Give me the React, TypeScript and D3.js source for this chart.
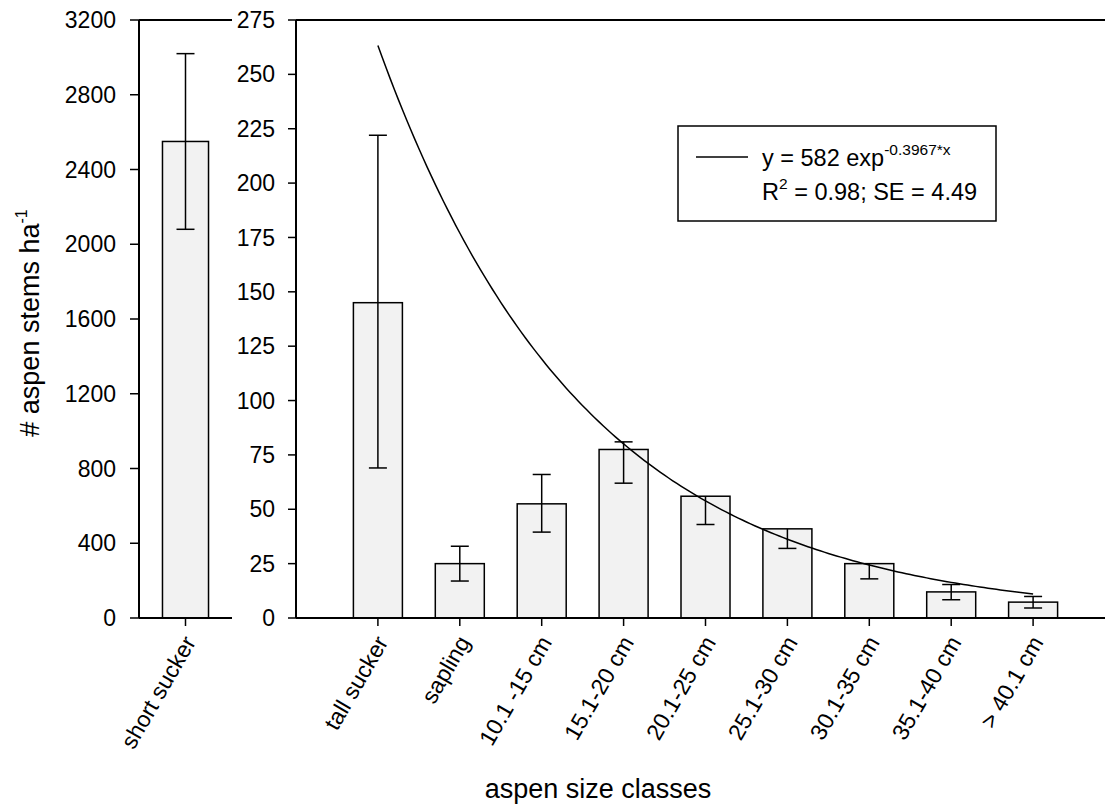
import React from 'react';
import * as d3 from 'd3';

// left panel (own y scale)
const shortLabels = ['short sucker'];
const shortMeans = [2550];
const shortErr = [470];
const leftTicks = [0, 400, 800, 1200, 1600, 2000, 2400, 2800, 3200];

// right panel
const sizeClasses = [
  'tall sucker',
  'sapling',
  '10.1 -15 cm',
  '15.1-20 cm',
  '20.1-25 cm',
  '25.1-30 cm',
  '30.1-35 cm',
  '35.1-40 cm',
  '> 40.1 cm',
];
const means = [145, 25, 52.5, 77.5, 56, 41, 25, 12, 7.3];
const errLower = [76, 8, 13, 15.5, 13, 9, 7, 3.6, 2.7];
const errUpper = [77, 8, 13.5, 3.5, 0, 0, 0, 3.4, 2.6];
const rightTicks = [0, 25, 50, 75, 100, 125, 150, 175, 200, 225, 250, 275];

// fitted curve shown in the legend
const fitA = 582;
const fitB = -0.3967;

const W = 1105;
const H = 810;
const FONT = '"Liberation Sans", Arial, sans-serif';
const BAR_FILL = '#f2f2f2';

const yTop = 20;
const yBottom = 618;

export default function App() {
  const yLeft = d3.scaleLinear().domain([0, 3200]).range([yBottom, yTop]);
  const yRight = d3.scaleLinear().domain([0, 275]).range([yBottom, yTop]);

  const leftX0 = 139;
  const leftX1 = 232;
  const xLeft = d3.scaleBand<string>().domain(shortLabels).range([leftX0, leftX1]).paddingInner(0).paddingOuter(0.51);

  const rightX0 = 296;
  // category i sits at position i + 2 (tall sucker = 2 ... > 40.1 cm = 10)
  const xRight = d3.scaleLinear().domain([1, 11]).range([rightX0, 1115]);
  const barW = 49;
  const capHalf = 9;

  const curvePts = d3.range(2, 10.0001, 0.05).map((x) => [x, fitA * Math.exp(fitB * x)] as [number, number]);
  const curvePath = d3
    .line<[number, number]>()
    .x((d) => xRight(d[0]))
    .y((d) => yRight(d[1]))(curvePts);

  const tickFont = 23;
  const labelY = 638;
  const labelDx = 4;

  return (
    <div style={{ position: 'absolute', left: 0, top: 0 }}>
      <svg width={W} height={H} style={{ display: 'block', background: '#fff' }} fontFamily={FONT}>
        {/* ---------- left panel ---------- */}
        {shortLabels.map((c, i) => {
          const cx = xLeft(c)! + xLeft.bandwidth() / 2;
          const bw = xLeft.bandwidth();
          return (
            <g key={c}>
              <rect
                x={cx - bw / 2}
                y={yLeft(shortMeans[i])}
                width={bw}
                height={yLeft(0) - yLeft(shortMeans[i])}
                fill={BAR_FILL}
                stroke="#000"
                strokeWidth={1.5}
              />
              <line x1={cx} x2={cx} y1={yLeft(shortMeans[i] - shortErr[i])} y2={yLeft(shortMeans[i] + shortErr[i])} stroke="#000" strokeWidth={1.5} />
              <line x1={cx - capHalf} x2={cx + capHalf} y1={yLeft(shortMeans[i] + shortErr[i])} y2={yLeft(shortMeans[i] + shortErr[i])} stroke="#000" strokeWidth={1.5} />
              <line x1={cx - capHalf} x2={cx + capHalf} y1={yLeft(shortMeans[i] - shortErr[i])} y2={yLeft(shortMeans[i] - shortErr[i])} stroke="#000" strokeWidth={1.5} />
              <line x1={cx} x2={cx} y1={yBottom} y2={yBottom + 8} stroke="#000" strokeWidth={1.5} />
              <text
                transform={`translate(${cx + labelDx},${labelY}) rotate(-60)`}
                textAnchor="end"
                dy="0.35em"
                fontSize={tickFont}
              >
                {c}
              </text>
            </g>
          );
        })}
        <line x1={leftX0} x2={leftX0} y1={yTop} y2={yBottom} stroke="#000" strokeWidth={2} />
        <line x1={leftX0} x2={leftX1} y1={yTop} y2={yTop} stroke="#000" strokeWidth={2} />
        <line x1={leftX0} x2={leftX1} y1={yBottom} y2={yBottom} stroke="#000" strokeWidth={2} />
        {leftTicks.map((t) => (
          <g key={t}>
            <line x1={leftX0 - 9} x2={leftX0} y1={yLeft(t)} y2={yLeft(t)} stroke="#000" strokeWidth={1.5} />
            <text x={leftX0 - 23} y={yLeft(t)} dy="0.35em" textAnchor="end" fontSize={tickFont}>
              {t}
            </text>
          </g>
        ))}

        {/* ---------- right panel ---------- */}
        {sizeClasses.map((c, i) => {
          const cx = xRight(i + 2);
          const m = means[i];
          const lo = m - errLower[i];
          const hi = m + errUpper[i];
          return (
            <g key={c}>
              <rect
                x={cx - barW / 2}
                y={yRight(m)}
                width={barW}
                height={yRight(0) - yRight(m)}
                fill={BAR_FILL}
                stroke="#000"
                strokeWidth={1.5}
              />
              <line x1={cx} x2={cx} y1={yRight(lo)} y2={yRight(hi)} stroke="#000" strokeWidth={1.5} />
              <line x1={cx - capHalf} x2={cx + capHalf} y1={yRight(lo)} y2={yRight(lo)} stroke="#000" strokeWidth={1.5} />
              {errUpper[i] > 0 && (
                <line x1={cx - capHalf} x2={cx + capHalf} y1={yRight(hi)} y2={yRight(hi)} stroke="#000" strokeWidth={1.5} />
              )}
              <line x1={cx} x2={cx} y1={yBottom} y2={yBottom + 8} stroke="#000" strokeWidth={1.5} />
              <text
                transform={`translate(${cx + labelDx},${labelY}) rotate(-60)`}
                textAnchor="end"
                dy="0.35em"
                fontSize={tickFont}
              >
                {c}
              </text>
            </g>
          );
        })}
        <path d={curvePath ?? ''} fill="none" stroke="#000" strokeWidth={1.5} />
        <line x1={rightX0} x2={rightX0} y1={yTop} y2={yBottom} stroke="#000" strokeWidth={2} />
        <line x1={rightX0} x2={W} y1={yTop} y2={yTop} stroke="#000" strokeWidth={2} />
        <line x1={rightX0} x2={W} y1={yBottom} y2={yBottom} stroke="#000" strokeWidth={2} />
        {rightTicks.map((t) => (
          <g key={t}>
            <line x1={rightX0 - 8} x2={rightX0} y1={yRight(t)} y2={yRight(t)} stroke="#000" strokeWidth={1.5} />
            <text x={rightX0 - 21} y={yRight(t)} dy="0.35em" textAnchor="end" fontSize={tickFont}>
              {t}
            </text>
          </g>
        ))}

        {/* ---------- legend ---------- */}
        <rect x={678} y={126} width={318} height={95} fill="#fff" stroke="#000" strokeWidth={1.5} />
        <line x1={696} x2={748} y1={157} y2={157} stroke="#000" strokeWidth={1.5} />
        <text x={762} y={166} fontSize={23.5}>
          y = {fitA} exp
          <tspan fontSize={15.5} dy={-11}>{`${fitB}*x`}</tspan>
        </text>
        <text x={762} y={200} fontSize={23.5}>
          R<tspan fontSize={15.5} dy={-11}>2</tspan>
          <tspan dy={11}> = 0.98; SE = 4.49</tspan>
        </text>

        {/* ---------- axis titles ---------- */}
        <text transform={`translate(39,323) rotate(-90)`} textAnchor="middle" fontSize={27}>
          # aspen stems ha<tspan fontSize={16} dy={-12}>-1</tspan>
        </text>
        <text x={598} y={798} textAnchor="middle" fontSize={27}>
          aspen size classes
        </text>
      </svg>
    </div>
  );
}
